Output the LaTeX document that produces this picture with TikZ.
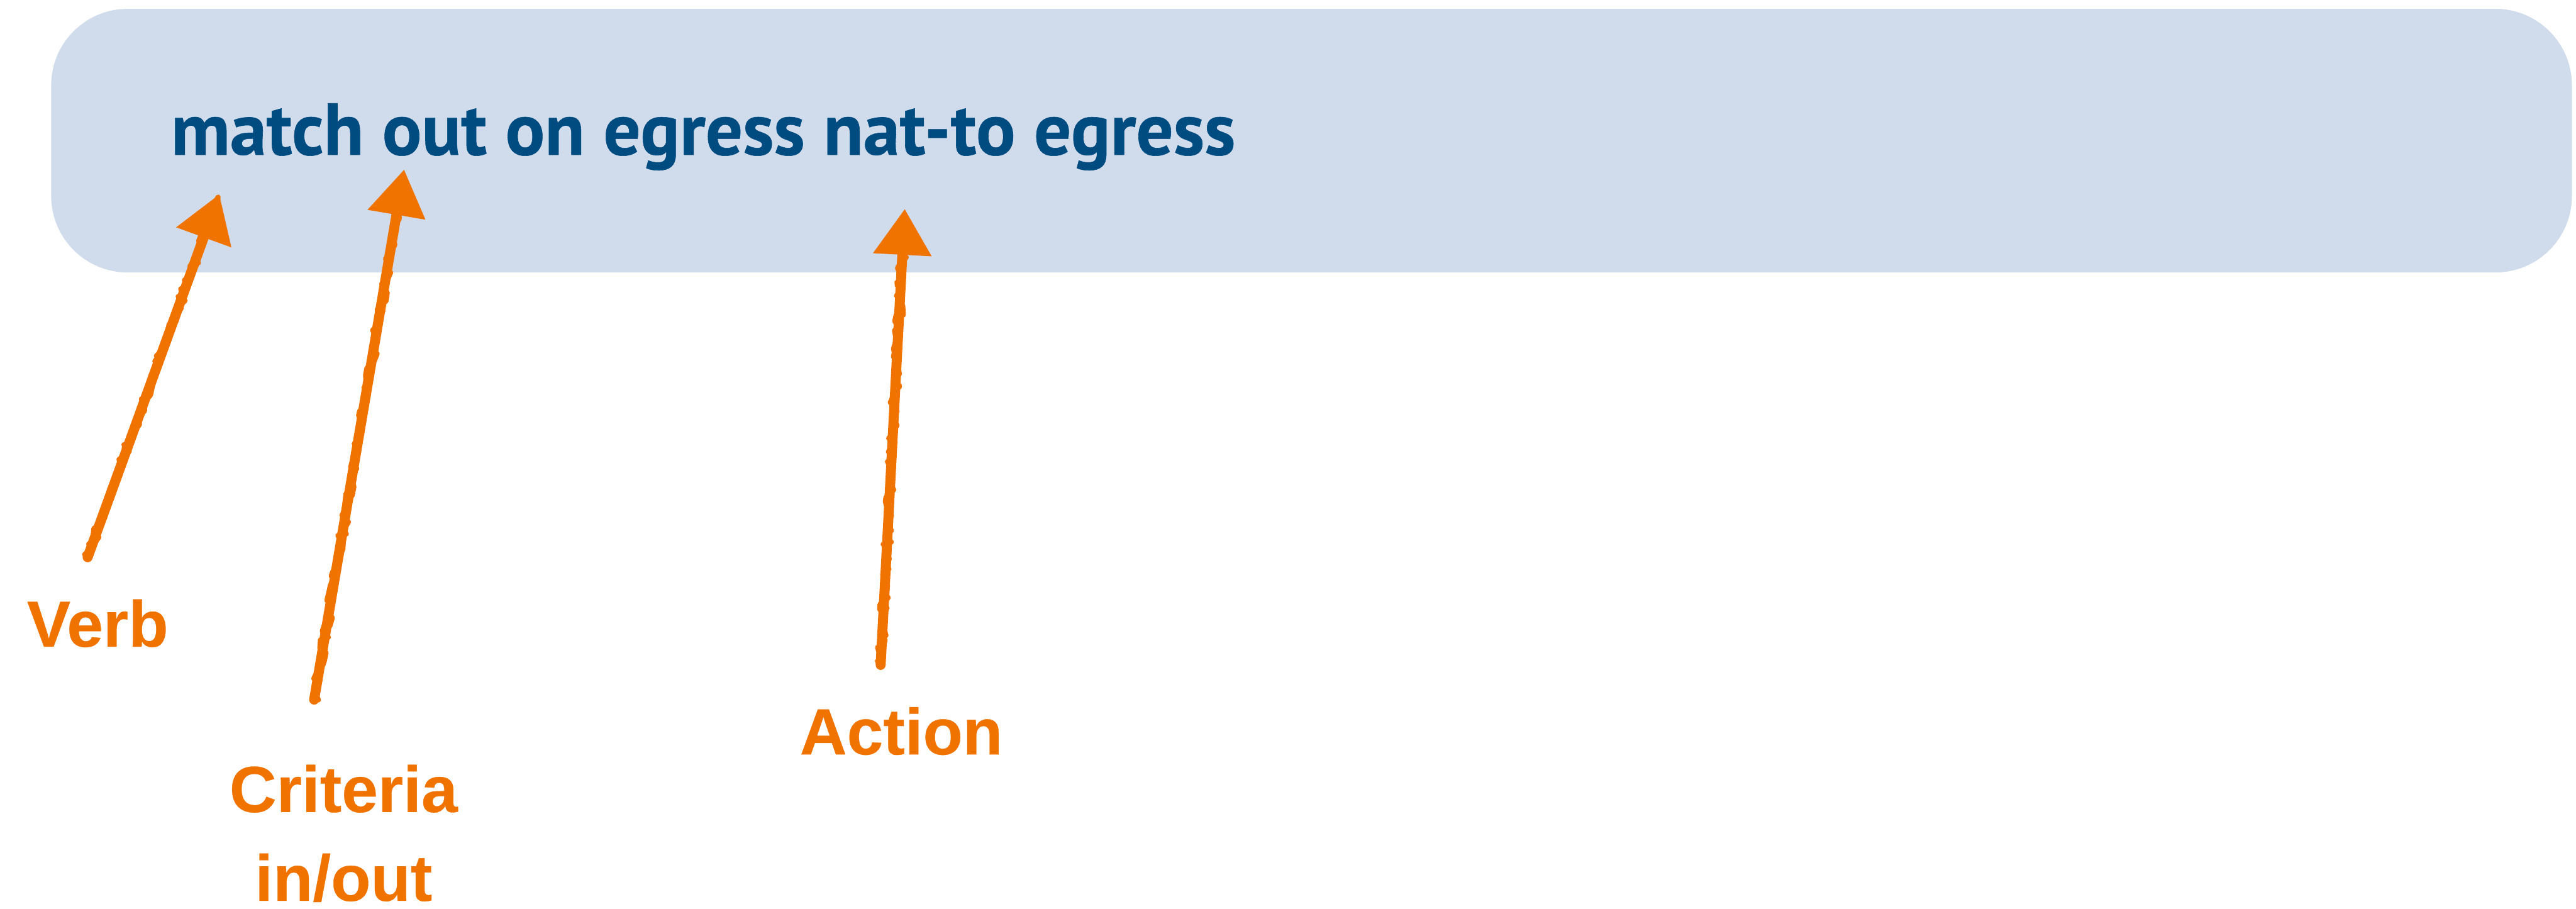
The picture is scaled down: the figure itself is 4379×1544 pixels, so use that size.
\documentclass[tikz,border=0pt]{standalone}
\usepackage{fontspec}
\setmainfont{Liberation Sans}[BoldFeatures={FakeBold=0.3}]
\newfontfamily\codefont{PT Sans}[BoldFeatures={FakeBold=0.5}]
\usetikzlibrary{arrows.meta,decorations.pathmorphing,calc}

\definecolor{panelblue}{RGB}{208,220,236}
\definecolor{codeblue}{RGB}{0,76,128}
\definecolor{chalkorange}{RGB}{240,115,0}

\tikzset{
  x=0.01cm, y=-0.01cm,
  panel/.style={fill=panelblue, rounded corners=1.3cm},
  codetext/.style={text=codeblue, inner sep=0pt,
    font=\codefont\bfseries\fontsize{35.5}{42}\selectfont},
  tag/.style={text=chalkorange, inner sep=0pt, align=center,
    font=\bfseries\fontsize{31.5}{42.9}\selectfont},
  chalk/.style={draw=chalkorange, line width=0.17cm, line cap=round, line join=round,
    -{Triangle[length=0.78cm, width=0.95cm]},
    postaction={draw=chalkorange, -{}, line width=0.09cm, shorten >=0.7cm,
      decoration={random steps, segment length=2pt, amplitude=2pt},
      decorate}},
}

\begin{document}
\begin{tikzpicture}
  \useasboundingbox (0,0) rectangle (4379,1544);

  % rounded panel holding the rule
  \path[panel] (87,15) rectangle (4372,463);

  \node[codetext, anchor=base west] (rule) at (290,263)
    {match out on egress nat-to egress};

  % labels
  \node[tag, anchor=north] (verb) at (166,1018) {Verb};
  \node[tag, anchor=north] (criteria) at (584,1299) {Criteria\\in/out};
  \node[tag, anchor=north] (action) at (1532,1201) {Action};

  % points the arrows aim at
  \coordinate (verbtip) at (373,330);
  \coordinate (criteriatip) at (687,288);
  \coordinate (actiontip) at (1538,355);

  % hand-drawn arrows
  \draw[chalk] ($(verb.north)+(-17,-71)$) -- (verbtip);
  \draw[chalk] ($(criteria.north)+(-50,-110)$) -- (criteriatip);
  \draw[chalk] ($(action.north)+(-35,-71)$) -- (actiontip);
\end{tikzpicture}
\end{document}
